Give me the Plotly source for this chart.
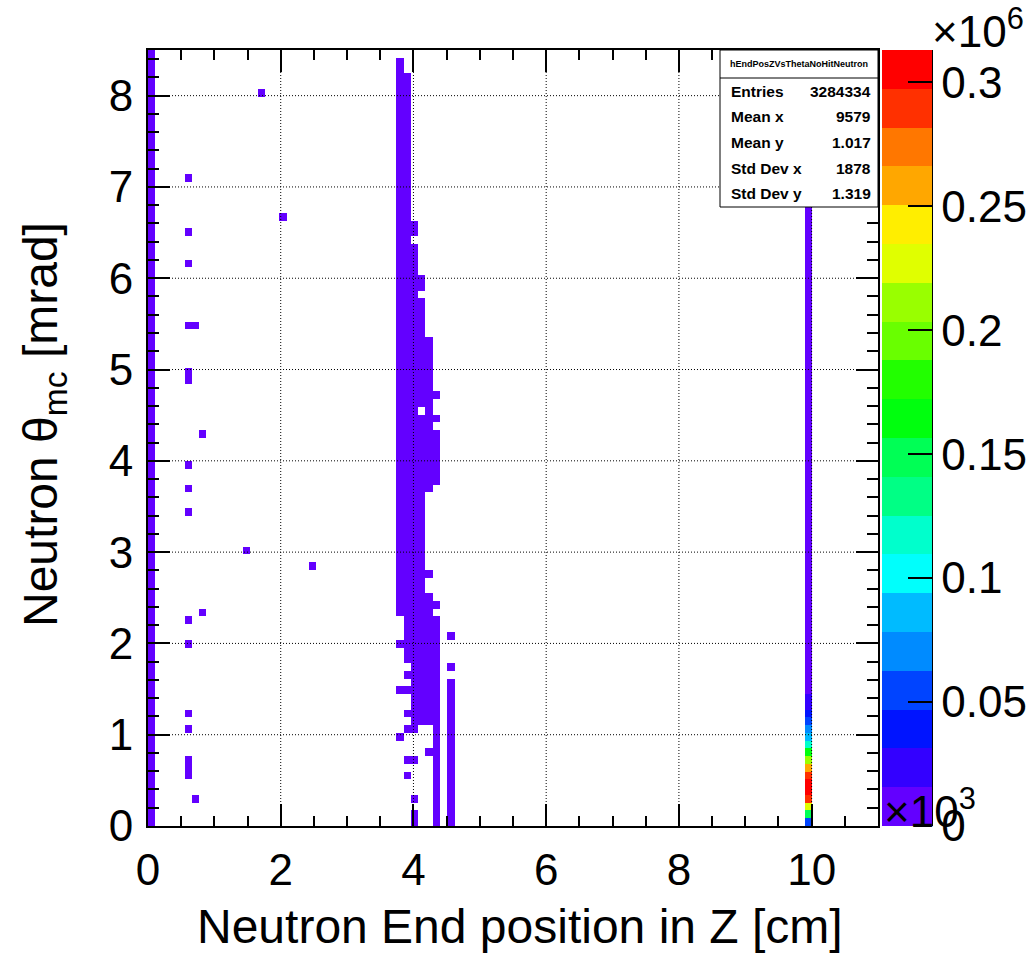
import plotly.graph_objects as go

# ---------------- data ----------------
X_MIN, X_MAX, NX = 0.0, 11.0, 100       # Neutron end position in Z [x10^3 cm]
Y_MIN, Y_MAX, NY = 0.0, 8.5, 100        # theta_mc [mrad]
Z_MAX = 313000                          # top of colour scale

# filled bin runs: (x bin, first y bin, last y bin, counts per bin)
runs = [
    (0, 0, 99, 1200),
    (34, 27, 98, 900), (34, 23, 23, 40), (34, 17, 17, 40), (34, 11, 11, 20),
    (35, 21, 96, 900), (35, 19, 19, 40), (35, 17, 17, 40), (35, 14, 14, 40),
    (35, 12, 12, 30), (35, 8, 8, 20), (35, 6, 6, 10),
    (36, 13, 74, 600), (36, 76, 77, 20), (36, 12, 12, 30), (36, 8, 8, 20),
    (36, 3, 3, 10), (36, 0, 1, 10),
    (37, 13, 52, 400), (37, 54, 67, 200), (37, 69, 70, 20),
    (38, 13, 29, 200), (38, 32, 32, 20), (38, 43, 62, 100), (38, 9, 9, 10),
    (39, 0, 26, 150), (39, 28, 28, 20), (39, 44, 50, 40), (39, 52, 52, 10),
    (39, 55, 55, 10),
    (41, 0, 18, 100), (41, 20, 20, 10), (41, 24, 24, 10),
    (90, 17, 30, 9000), (90, 31, 60, 5000), (90, 61, 99, 2500),
]
# x bin 90 (Z ~ 10 m), lowest y bins 0..16
col_z10_counts = [55000, 149000, 227000, 290000, 305000, 310000, 288000,
                  260000, 212000, 165000, 118000, 86000, 71000, 55000,
                  39000, 24000, 21000]
# isolated single-bin entries: (x bin, y bin)
singles = [(15, 94), (5, 83), (18, 78), (5, 76), (5, 72), (5, 64), (6, 64),
           (5, 57), (5, 58), (7, 50), (5, 46), (5, 43), (5, 40), (13, 35),
           (22, 33), (7, 27), (5, 26), (5, 23), (5, 14), (5, 12), (5, 6),
           (5, 7), (5, 8), (6, 3)]

x_ticks = [0, 2, 4, 6, 8, 10]
y_ticks = [0, 1, 2, 3, 4, 5, 6, 7, 8]
z_ticks = [0, 50000, 100000, 150000, 200000, 250000, 300000]
z_tick_text = ["0", "0.05", "0.1", "0.15", "0.2", "0.25", "0.3"]

stats_title = "hEndPosZVsThetaNoHitNeutron"
stats_rows = [("Entries", "3284334"), ("Mean x", "9579"), ("Mean y", "1.017"),
              ("Std Dev x", "1878"), ("Std Dev y", "1.319")]

# ROOT "pretty" palette, 20 contour levels
palette = ["rgb(99,0,255)", "rgb(51,0,255)", "rgb(0,20,255)", "rgb(0,68,255)",
           "rgb(0,139,255)", "rgb(0,187,255)", "rgb(0,255,252)", "rgb(0,255,204)",
           "rgb(0,255,133)", "rgb(0,255,85)", "rgb(0,255,14)", "rgb(34,255,0)",
           "rgb(105,255,0)", "rgb(153,255,0)", "rgb(224,255,0)", "rgb(255,238,0)",
           "rgb(255,167,0)", "rgb(255,119,0)", "rgb(255,48,0)", "rgb(255,0,0)"]

# ---------------- build histogram ----------------
dx = (X_MAX - X_MIN) / NX
dy = (Y_MAX - Y_MIN) / NY
z = [[None] * NX for _ in range(NY)]
for ix, j0, j1, c in runs:
    for j in range(j0, j1 + 1):
        z[j][ix] = c
for j, c in enumerate(col_z10_counts):
    z[j][90] = c
for ix, j in singles:
    z[j][ix] = 1

n = len(palette)
cscale = []
for k, col in enumerate(palette):
    cscale.append([k / n, col])
    cscale.append([(k + 1) / n, col])

FONT = "Liberation Sans, Arial, Helvetica, sans-serif"
TICK_SIZE = 44
TITLE_SIZE = 48

# plot frame in pixels
L, R, T, B = 148, 878, 50, 826
W, H = 1029, 953
def px(xp):
    return (xp - L) / (R - L)
def py(yp):
    return (B - yp) / (B - T)

fig = go.Figure()
fig.add_trace(go.Heatmap(
    z=z, x0=X_MIN + dx / 2, dx=dx, y0=Y_MIN + dy / 2, dy=dy,
    zmin=0, zmax=Z_MAX, colorscale=cscale, hoverongaps=False,
    colorbar=dict(
        thickness=50, thicknessmode="pixels", len=1, lenmode="fraction",
        x=px(882), xanchor="left", xpad=0, y=0.5, yanchor="middle", ypad=0,
        outlinewidth=0, ticks="inside", ticklen=24, tickwidth=2, tickcolor="black",
        tickvals=z_ticks, ticktext=z_tick_text,
        tickfont=dict(family=FONT, size=TICK_SIZE, color="black"),
    ),
))

axis_common = dict(
    showline=True, linecolor="black", linewidth=2, mirror="ticks",
    ticks="inside", ticklen=22, tickwidth=2, tickcolor="black",
    showgrid=False, zeroline=False,
    tickfont=dict(family=FONT, size=TICK_SIZE, color="black"),
)
fig.update_xaxes(range=[X_MIN, X_MAX], tickvals=x_ticks, ticklabelstandoff=4,
                 minor=dict(dtick=0.5, ticks="inside", ticklen=10, tickwidth=2,
                            tickcolor="black", showgrid=False),
                 **axis_common)
fig.update_yaxes(range=[Y_MIN, Y_MAX], tickvals=y_ticks, ticklabelstandoff=4,
                 minor=dict(dtick=0.2, ticks="inside", ticklen=11, tickwidth=2,
                            tickcolor="black", showgrid=False),
                 **axis_common)

shapes = []
# dotted grid drawn over the histogram (ROOT style)
for xv in x_ticks[1:]:
    shapes.append(dict(type="line", xref="x", yref="paper", x0=xv, x1=xv, y0=0, y1=1,
                       line=dict(color="black", width=1, dash="1px,2px"), layer="above"))
for yv in y_ticks[1:]:
    shapes.append(dict(type="line", xref="paper", yref="y", x0=0, x1=1, y0=yv, y1=yv,
                       line=dict(color="black", width=1, dash="1px,2px"), layer="above"))
# stats box
SX0, SX1, SY0, SY1 = 720, 878, 50, 207
shapes.append(dict(type="rect", xref="paper", yref="paper", x0=px(SX0), x1=px(SX1),
                   y0=py(SY1), y1=py(SY0), fillcolor="white",
                   line=dict(color="black", width=1), layer="above"))
shapes.append(dict(type="line", xref="paper", yref="paper", x0=px(SX0), x1=px(SX1),
                   y0=py(78), y1=py(78), line=dict(color="black", width=1), layer="above"))
# palette axis line
shapes.append(dict(type="line", xref="paper", yref="paper", x0=px(932), x1=px(932),
                   y0=0, y1=1, line=dict(color="black", width=2), layer="above"))

ann = []
ann.append(dict(text="<b>%s</b>" % stats_title, x=px((SX0 + SX1) / 2), y=py(64),
                xref="paper", yref="paper", showarrow=False,
                font=dict(family=FONT, size=9, color="black"),
                xanchor="center", yanchor="middle"))
for i, (lab, val) in enumerate(stats_rows):
    yc = py(91 + i * 25.7)
    ann.append(dict(text="<b>%s</b>" % lab, x=px(729), y=yc, xref="paper", yref="paper",
                    showarrow=False, xanchor="left", yanchor="middle",
                    font=dict(family=FONT, size=15.5, color="black")))
    ann.append(dict(text="<b>%s</b>" % val, x=px(873), y=yc, xref="paper", yref="paper",
                    showarrow=False, xanchor="right", yanchor="middle",
                    font=dict(family=FONT, size=15.5, color="black")))
# axis titles
ann.append(dict(text="Neutron End position in Z [cm]", x=px(520), y=py(926),
                xref="paper", yref="paper", showarrow=False, xanchor="center",
                yanchor="middle", font=dict(family=FONT, size=TITLE_SIZE, color="black")))
ann.append(dict(text="Neutron θ<sub>mc</sub> [mrad]", x=px(44), y=py(425),
                xref="paper", yref="paper", showarrow=False, textangle=-90,
                xanchor="center", yanchor="middle",
                font=dict(family=FONT, size=TITLE_SIZE, color="black")))
# exponent labels
ann.append(dict(text="×10<sup>6</sup>", x=px(930), y=py(28), xref="paper", yref="paper",
                showarrow=False, xanchor="left", yanchor="middle",
                font=dict(family=FONT, size=TICK_SIZE, color="black")))
ann.append(dict(text="×10<sup>3</sup>", x=px(882), y=py(808), xref="paper", yref="paper",
                showarrow=False, xanchor="left", yanchor="middle",
                font=dict(family=FONT, size=TICK_SIZE, color="black")))

fig.update_layout(
    width=W, height=H,
    margin=dict(l=L, r=W - R, t=T, b=H - B, pad=0, autoexpand=False),
    paper_bgcolor="white", plot_bgcolor="white",
    shapes=shapes, annotations=ann, showlegend=False,
    font=dict(family=FONT, color="black"),
)
fig.write_html("out.html")
